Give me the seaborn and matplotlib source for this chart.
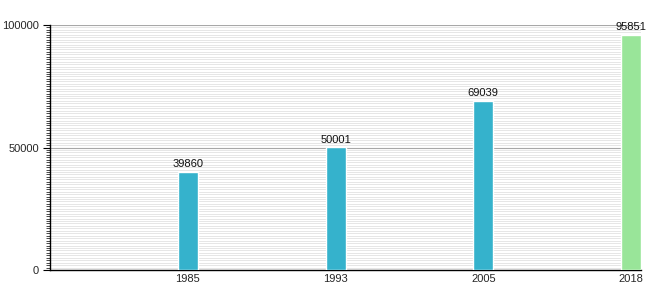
import matplotlib
matplotlib.use("Agg")
import matplotlib.pyplot as plt
import seaborn as sns
import pandas as pd
from matplotlib.ticker import MultipleLocator

years = ["1985", "1993", "2005", "2018"]
values = [39860, 50001, 69039, 95851]
colors = ["#35b2cc", "#35b2cc", "#35b2cc", "#99e599"]

sns.set_style("white")
plt.rcParams['font.family'] = ['Liberation Sans', 'DejaVu Sans']

df = pd.DataFrame({"year": years, "value": values})

fig = plt.figure(figsize=(6.6, 3.0), dpi=100)
ax = fig.add_axes([50/660, 30/300, 591/660, 245/300])

sns.barplot(data=df, x="year", y="value", hue="year", palette=colors,
            width=0.135, legend=False, ax=ax, saturation=1, zorder=3)

ax.set_xlim(-0.934, 3.068)
ax.set_ylim(0, 100000)
ax.yaxis.set_major_locator(MultipleLocator(50000))
ax.yaxis.set_minor_locator(MultipleLocator(1000))
ax.grid(which="minor", axis="y", color="#e6e6e6", linewidth=0.7, zorder=0)
ax.grid(which="major", axis="y", color="#a8a8a8", linewidth=0.8, zorder=1)
ax.set_axisbelow(True)

for s in ["top", "right"]:
    ax.spines[s].set_visible(False)
ax.spines["left"].set_color("black")
ax.spines["bottom"].set_color("black")
ax.spines["left"].set_linewidth(1.0)
ax.spines["bottom"].set_linewidth(1.0)

ax.tick_params(axis="y", which="major", length=5, width=0.8, color="black",
               labelsize=8, pad=3, left=True)
ax.tick_params(axis="y", which="minor", length=3, width=0.5, color="black", left=True)
ax.tick_params(axis="x", length=0, labelsize=8, pad=3)
ax.set_xlabel("")
ax.set_ylabel("")

for i, v in enumerate(values):
    ax.text(i, v + 1200, str(v), ha="center", va="bottom", fontsize=8, color="#111111")

fig.savefig("out.png", dpi=100)
